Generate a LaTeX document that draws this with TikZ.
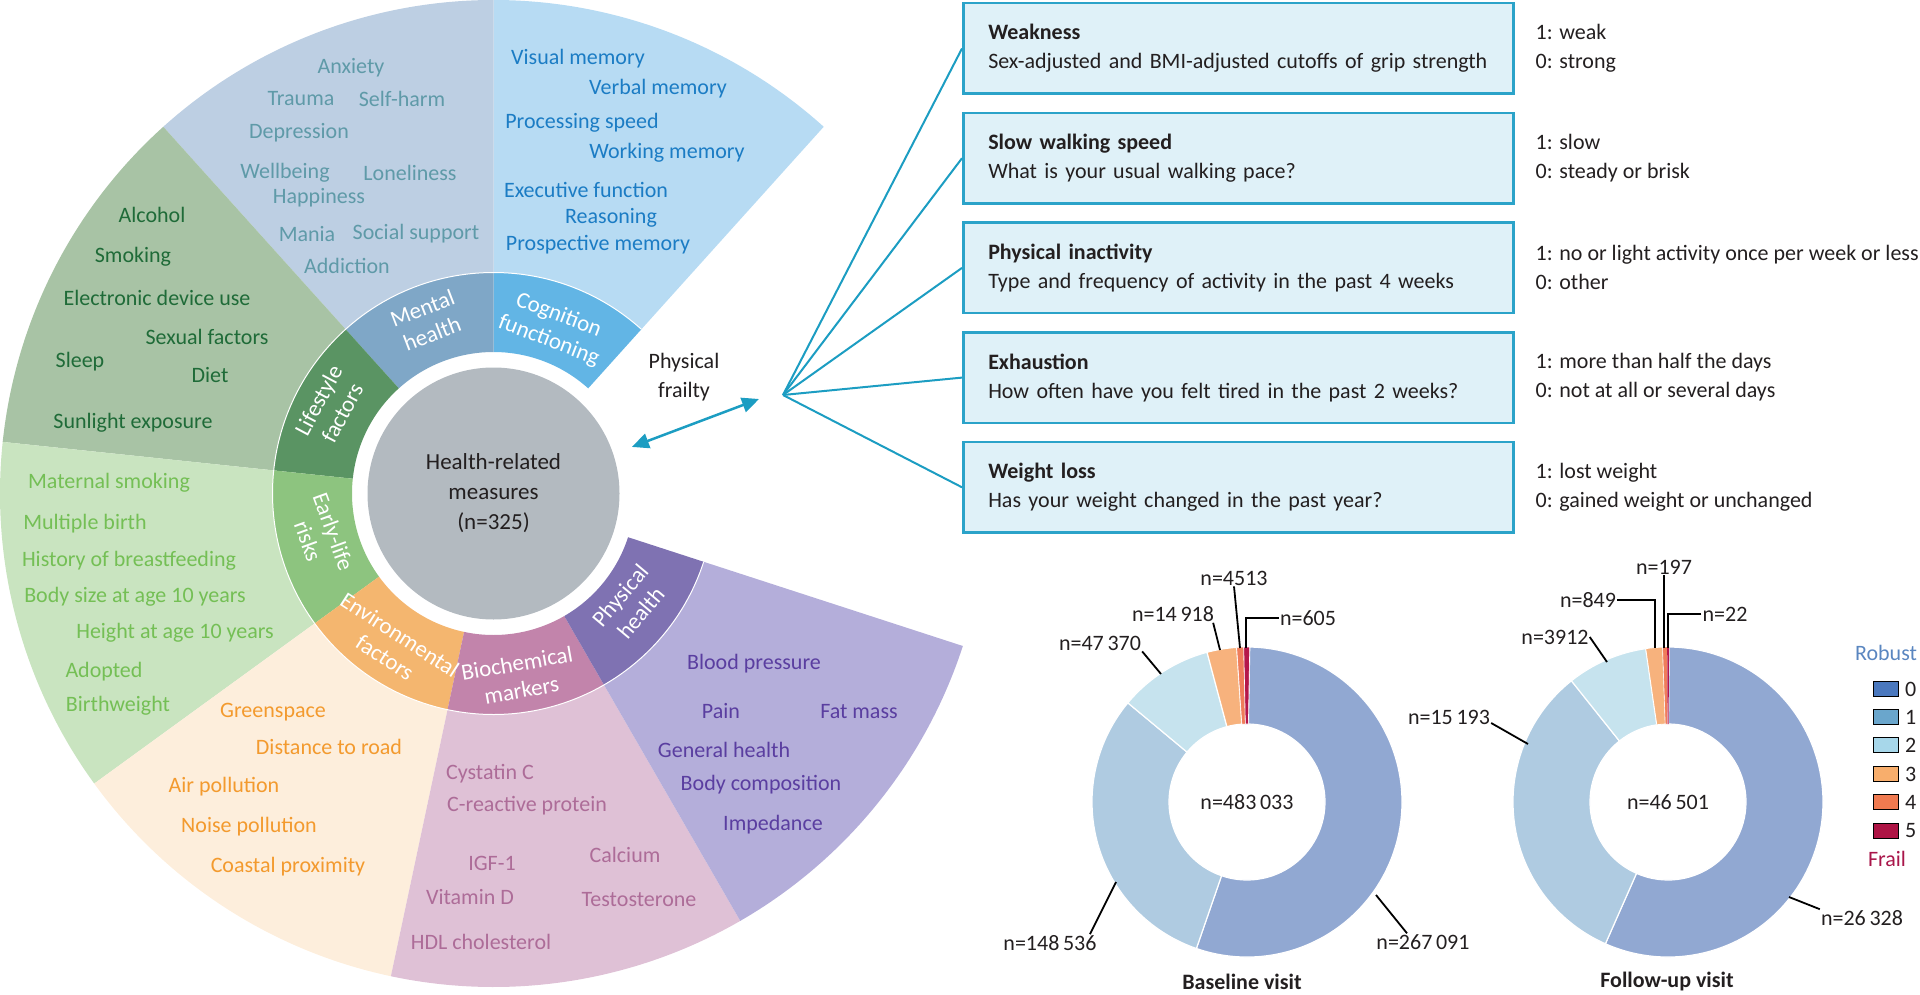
\documentclass[tikz,border=0pt]{standalone}
\usepackage{fontspec}
\setmainfont{Carlito}
\usetikzlibrary{positioning,arrows.meta}

\definecolor{mhout}{HTML}{BDCFE3}
\definecolor{mhband}{HTML}{7FA7C7}
\definecolor{mhtext}{HTML}{5F9AA8}
\definecolor{cgout}{HTML}{B7DBF3}
\definecolor{cgband}{HTML}{62B5E5}
\definecolor{cgtext}{HTML}{1B7CC4}
\definecolor{lsout}{HTML}{A8C3A5}
\definecolor{lsband}{HTML}{5A9463}
\definecolor{lstext}{HTML}{1F6B38}
\definecolor{elout}{HTML}{C9E4C0}
\definecolor{elband}{HTML}{8DC47F}
\definecolor{eltext}{HTML}{74BF55}
\definecolor{enout}{HTML}{FDEEDC}
\definecolor{enband}{HTML}{F4B66F}
\definecolor{entext}{HTML}{F39A2E}
\definecolor{bcout}{HTML}{DFC1D6}
\definecolor{bcband}{HTML}{C284AB}
\definecolor{bctext}{HTML}{AD6C98}
\definecolor{phout}{HTML}{B4AEDA}
\definecolor{phband}{HTML}{7F72B2}
\definecolor{phtext}{HTML}{5A3EA0}
\definecolor{hubgray}{HTML}{B3BAC0}
\definecolor{ink}{HTML}{231F20}
\definecolor{frailblue}{HTML}{1C9DC2}
\definecolor{framefill}{HTML}{DFF1F8}
\definecolor{frameline}{HTML}{2BA3C9}
\definecolor{dn0}{HTML}{91A8D2}
\definecolor{dn1}{HTML}{AFCBE1}
\definecolor{dn2}{HTML}{C6E3EE}
\definecolor{dn3}{HTML}{F7B27D}
\definecolor{dn4}{HTML}{EF7D5B}
\definecolor{dn5}{HTML}{B5174A}
\definecolor{lg0}{HTML}{4A78BE}
\definecolor{lg1}{HTML}{6AA6CC}
\definecolor{lg2}{HTML}{A7D7EA}
\definecolor{lg3}{HTML}{F8AE6C}
\definecolor{lg4}{HTML}{F07A50}
\definecolor{lg5}{HTML}{AE1445}
\definecolor{robust}{HTML}{5A86C0}
\definecolor{frail}{HTML}{A9164A}

% ring piece: colour, start angle, end angle, inner radius, outer radius
\newcommand{\wheelpart}[5]{\fill[#1] (#2:#4pt) arc[start angle=#2,end angle=#3,radius=#4pt] -- (#3:#5pt) arc[start angle=#3,end angle=#2,radius=#5pt] -- cycle;}

\begin{document}
\begin{tikzpicture}[x=1pt,y=1pt,ink,
    txt/.style={font=\fontsize{22}{29}\selectfont},
    wheel item/.style={txt,inner sep=1pt},
    band label/.style={font=\fontsize{23}{27}\selectfont,text=white,align=center,inner sep=0pt},
    frame box/.style={txt,draw=frameline,fill=framefill,line width=2.5pt,text width=500pt,inner xsep=25pt,minimum height=90.5pt,align=left},
    score/.style={txt,align=left,inner sep=0pt},
    fan/.style={frailblue,line width=2pt},
    nlabel/.style={txt,inner sep=1pt},
    leader/.style={black,line width=1.8pt},
    key box/.style={draw=black,line width=1.5pt,minimum width=25pt,minimum height=15pt,inner sep=0pt}]
\useasboundingbox (0,0) rectangle (1920,-995);

\begin{scope}[shift={(493.5,-493.5)}]
\wheelpart{cgout}{48}{90}{221}{493.5}
\wheelpart{mhout}{90}{132}{221}{493.5}
\wheelpart{lsout}{132}{174}{221}{493.5}
\wheelpart{elout}{174}{216}{221}{493.5}
\wheelpart{enout}{216}{258}{221}{493.5}
\wheelpart{bcout}{258}{300}{221}{493.5}
\wheelpart{phout}{300}{342}{221}{493.5}
\wheelpart{cgband}{48}{90}{141.5}{221}
\wheelpart{mhband}{90}{132}{141.5}{221}
\wheelpart{lsband}{132}{174}{141.5}{221}
\wheelpart{elband}{174}{216}{141.5}{221}
\wheelpart{enband}{216}{258}{141.5}{221}
\wheelpart{bcband}{258}{300}{141.5}{221}
\wheelpart{phband}{300}{342}{141.5}{221}
\draw[white,line width=1pt] (48:221pt) arc[start angle=48,end angle=342,radius=221pt];
\node[circle,fill=hubgray,minimum size=252pt,inner sep=0pt] (hub) at (0,0) {};
\node[align=center,font=\fontsize{23}{30}\selectfont,inner sep=0pt] (hubtxt) at (0,0) {Health-related\\measures\\(n=325)};
\node[band label,rotate=21] (mhb) at (111:185) {Mental\\health};
\node[band label,rotate=-21] (cgb) at (70:176) {Cognition\\functioning};
\node[band label,rotate=62] (lsb) at (152:185) {Lifestyle\\factors};
\node[band label,rotate=-70] (elb) at (194:178) {Early-life\\risks};
\node[band label,rotate=-33] (enb) at (236.5:183) {Environmental\\factors};
\node[band label,rotate=10] (bcb) at (-82:185) {Biochemical\\markers};
\node[band label,rotate=50] (phb) at (-39:176) {Physical\\health};
\end{scope}

\foreach \t/\x/\y [count=\i] in {Anxiety/351/68, Trauma/301/99, Self-harm/402/99, Depression/299/133, Wellbeing/285/173, Loneliness/410/173, Happiness/319/198, Mania/307/234, Social support/416/234, Addiction/347/266}
  \node[wheel item,mhtext] (mh\i) at (\x,-\y) {\t};
\foreach \t/\x/\y [count=\i] in {Visual memory/578/59, Verbal memory/658/89, Processing speed/582/123, Working memory/667/153, Executive function/586/190, Reasoning/611/218, Prospective memory/598/245}
  \node[wheel item,cgtext] (cg\i) at (\x,-\y) {\t};
\foreach \t/\x/\y [count=\i] in {Alcohol/152/215, Smoking/133/257, Electronic device use/157/298, Sexual factors/207/337, Sleep/80/362, Diet/210/375, Sunlight exposure/133/423}
  \node[wheel item,lstext] (ls\i) at (\x,-\y) {\t};
\foreach \t/\x/\y [count=\i] in {Maternal smoking/109/483, Multiple birth/85/524, History of breastfeeding/129/561, Body size at age 10 years/135/597, Height at age 10 years/175/633, Adopted/104/672, Birthweight/118/706}
  \node[wheel item,eltext] (el\i) at (\x,-\y) {\t};
\foreach \t/\x/\y [count=\i] in {Greenspace/273/712, Distance to road/329/747, Air pollution/224/787, Noise pollution/249/827, Coastal proximity/288/867}
  \node[wheel item,entext] (en\i) at (\x,-\y) {\t};
\foreach \t/\x/\y [count=\i] in {Cystatin C/490/774, C-reactive protein/527/806, IGF-1/492/863, Calcium/625/855, Vitamin D/470/897, Testosterone/639/900, HDL cholesterol/481/942}
  \node[wheel item,bctext] (bc\i) at (\x,-\y) {\t};
\foreach \t/\x/\y [count=\i] in {Blood pressure/754/664, Pain/721/711, Fat mass/859/712, General health/724/750, Body composition/761/785, Impedance/773/825}
  \node[wheel item,phtext] (ph\i) at (\x,-\y) {\t};

\node[txt,align=center] (pf) at (684,-377) {Physical\\frailty};
\path (hub.center) ++(18.6:146pt) coordinate (arrA);
\coordinate (arrB) at (759,-399);
\draw[frailblue,line width=2.5pt,{Triangle[length=17pt,width=15pt]}-{Triangle[length=17pt,width=15pt]}] (arrA) -- (arrB);

\node[frame box,anchor=north west] (wk) at (962,-2) {\textbf{Weakness}\\Sex-adjusted and BMI-adjusted cutoffs of grip strength};
\node[frame box,below=16.7pt of wk] (sw) {\textbf{Slow walking speed}\\What is your usual walking pace?};
\node[frame box,below=16.7pt of sw] (act) {\textbf{Physical inactivity}\\Type and frequency of activity in the past 4 weeks};
\node[frame box,below=16.7pt of act] (exh) {\textbf{Exhaustion}\\How often have you felt tired in the past 2 weeks?};
\node[frame box,below=16.7pt of exh] (wl) {\textbf{Weight loss}\\Has your weight changed in the past year?};
\node[score,right=21pt of wk] (wkv) {1: weak\\0: strong};
\node[score,right=21pt of sw] (swv) {1: slow\\0: steady or brisk};
\node[score,right=21pt of act] (actv) {1: no or light activity once per week or less\\0: other};
\node[score,right=21pt of exh] (exhv) {1: more than half the days\\0: not at all or several days};
\node[score,right=21pt of wl] (wlv) {1: lost weight\\0: gained weight or unchanged};
\coordinate (fanpt) at (783,-395);
\foreach \b in {wk,sw,act,exh,wl}
  \draw[fan] (fanpt) -- (\b.west);

\begin{scope}[shift={(1247,-802)}]
\wheelpart{dn0,draw=white,line width=1.2pt}{89}{-109.06}{78}{155}
\wheelpart{dn1,draw=white,line width=1.2pt}{-109.06}{-219.76}{78}{155}
\wheelpart{dn2,draw=white,line width=1.2pt}{-219.76}{-255.06}{78}{155}
\wheelpart{dn3,draw=white,line width=1.2pt}{-255.06}{-266.18}{78}{155}
\wheelpart{dn4,draw=white,line width=0.6pt}{-266.18}{-268.8}{78}{155}
\wheelpart{dn5,draw=white,line width=0.6pt}{-268.8}{-271}{78}{155}
\node[txt] (btot) at (0,0) {n=483\,033};
\end{scope}
\begin{scope}[shift={(1668,-802)}]
\wheelpart{dn0,draw=white,line width=1.2pt}{89.6}{-113.82}{78}{155}
\wheelpart{dn1,draw=white,line width=1.2pt}{-113.82}{-231.44}{78}{155}
\wheelpart{dn2,draw=white,line width=1.2pt}{-231.44}{-261.73}{78}{155}
\wheelpart{dn3,draw=white,line width=0.8pt}{-261.73}{-268}{78}{155}
\wheelpart{dn4,draw=white,line width=0.4pt}{-268}{-269.7}{78}{155}
\wheelpart{dn5}{-269.7}{-270.4}{78}{155}
\node[txt] (ftot) at (0,0) {n=46\,501};
\end{scope}

\node[nlabel] (b0) at (1423,-942) {n=267\,091};
\node[nlabel] (b1) at (1050,-943) {n=148\,536};
\node[nlabel] (b2) at (1100,-643) {n=47\,370};
\node[nlabel] (b3) at (1173,-614) {n=14\,918};
\node[nlabel] (b4) at (1234,-578) {n=4513};
\node[nlabel] (b5) at (1308,-618) {n=605};
\coordinate (b0t) at (1376,-895);
\coordinate (b1t) at (1116,-882);
\coordinate (b2t) at (1161,-674);
\coordinate (b3t) at (1220,-650);
\coordinate (b4t) at (1240,-648);
\coordinate (b5t) at (1246,-648);
\draw[leader] (b0t) -- ([xshift=-16pt]b0.north);
\draw[leader] (b1t) -- ([xshift=40pt]b1.north);
\draw[leader] (b2.south east) -- (b2t);
\draw[leader] ([xshift=-2pt]b3.south east) -- (b3t);
\draw[leader] (b4.south) -- (b4t);
\draw[leader] (b5.west) -| (b5t);

\node[nlabel] (f0) at (1862,-918) {n=26\,328};
\node[nlabel] (f1) at (1449,-717) {n=15\,193};
\node[nlabel] (f2) at (1555,-637) {n=3912};
\node[nlabel] (f3) at (1588,-600) {n=849};
\node[nlabel] (f4) at (1664,-567) {n=197};
\node[nlabel] (f5) at (1725,-614) {n=22};
\coordinate (f0t) at (1789,-897);
\coordinate (f1t) at (1528,-744);
\coordinate (f2t) at (1607,-662);
\coordinate (f3t) at (1655,-648);
\coordinate (f4t) at (1664,-648);
\coordinate (f5t) at (1668,-648);
\draw[leader] (f0t) -- (f0.north west);
\draw[leader] ([yshift=-6pt]f1.east) -- (f1t);
\draw[leader] (f2.east) -- (f2t);
\draw[leader] (f3.east) -| (f3t);
\draw[leader] (f4.south) -- (f4t);
\draw[leader] (f5.west) -| (f5t);

\node[txt] (bv) at (1242,-982) {\textbf{Baseline visit}};
\node[txt] (fv) at (1667,-982) {\textbf{Follow-up visit}};

\node[txt,text=robust] (rob) at (1886,-653) {Robust};
\foreach \k/\y in {0/689,1/717,2/745,3/774,4/802,5/831} {
  \node[key box,fill=lg\k] (k\k) at (1886,-\y) {};
  \node[txt,anchor=west,inner sep=0pt] (kn\k) at (1905,-\y) {\k};
}
\node[txt,text=frail] (frl) at (1887,-859) {Frail};
\end{tikzpicture}
\end{document}
